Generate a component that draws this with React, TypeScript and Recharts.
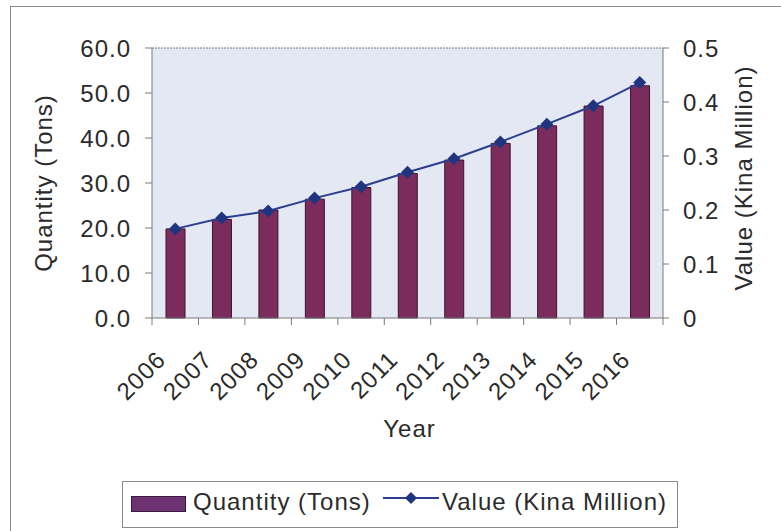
import React from "react"
import {
    ComposedChart,
    Bar,
    Line,
    XAxis,
    YAxis,
    CartesianGrid,
    ReferenceLine,
    Label,
} from "recharts"

const years = ["2006", "2007", "2008", "2009", "2010", "2011", "2012", "2013", "2014", "2015", "2016"]
const quantityTons = [19.8, 21.9, 24.0, 26.4, 29.0, 32.1, 35.1, 38.8, 42.7, 47.1, 51.6]
const valueKinaMillion = [0.165, 0.185, 0.198, 0.222, 0.243, 0.27, 0.295, 0.326, 0.359, 0.393, 0.436]
const leftTicks = [0, 10, 20, 30, 40, 50, 60]
const rightTicks = [0, 0.1, 0.2, 0.3, 0.4, 0.5]

const data = years.map((year, i) => ({
    year,
    quantity: quantityTons[i],
    value: valueKinaMillion[i],
}))

const TEXT = "#2b2b2b"
const AXIS = "#7a7a7a"
const BAR = "#7b2c5c"
const BAR_EDGE = "#3a1430"
const LINE = "#2c3f8e"
const MARKER = "#1f3580"
const FONT = 24

function Diamond({ cx, cy }: any) {
    if (cx == null || cy == null) return null
    return (
        <path
            d={`M${cx},${cy - 6.5} L${cx + 6.5},${cy} L${cx},${cy + 6.5} L${cx - 6.5},${cy} Z`}
            fill={MARKER}
        />
    )
}

function YearTick(props: any) {
    const { x, y, payload, index, width, visibleTicksCount } = props
    const step = width / (visibleTicksCount || years.length)
    const tx = x - 8
    const ty = y + 43
    return (
        <g>
            <line x1={x - step / 2} y1={y} x2={x - step / 2} y2={y + 7} stroke={AXIS} />
            {index === years.length - 1 && (
                <line x1={x + step / 2} y1={y} x2={x + step / 2} y2={y + 7} stroke={AXIS} />
            )}
            <text
                x={tx}
                y={ty}
                textAnchor="end"
                fill={TEXT}
                fontSize={FONT}
                transform={`rotate(-45, ${tx}, ${ty})`}
            >
                {payload.value}
            </text>
        </g>
    )
}

export default function App() {
    return (
        <div
            style={{
                position: "absolute",
                left: 0,
                top: 0,
                width: 781,
                height: 531,
                overflow: "hidden",
                background: "#fff",
                fontFamily: "'Liberation Sans', Arial, sans-serif",
                letterSpacing: 1,
            }}
        >
            <div
                style={{
                    position: "absolute",
                    left: 10,
                    top: 6,
                    width: 800,
                    height: 560,
                    borderLeft: "1.5px solid #8a8a8a",
                    borderTop: "1.5px solid #8a8a8a",
                }}
            />
            <div style={{ position: "absolute", left: 0, top: 0 }}>
                <ComposedChart
                    width={781}
                    height={531}
                    data={data}
                    margin={{ top: 48, right: 0, bottom: 0, left: 0 }}
                    barCategoryGap={0}
                >
                    <CartesianGrid horizontal={false} vertical={false} fill="#e4e8f3" />
                    <XAxis
                        dataKey="year"
                        height={213}
                        interval={0}
                        tickLine={false}
                        tickSize={0}
                        tickMargin={0}
                        axisLine={{ stroke: AXIS }}
                        tick={<YearTick />}
                    >
                        <Label
                            content={({ viewBox }: any) => (
                                <text
                                    x={viewBox.x + viewBox.width / 2 + 2}
                                    y={viewBox.y + 119}
                                    textAnchor="middle"
                                    fill={TEXT}
                                    fontSize={FONT}
                                >
                                    Year
                                </text>
                            )}
                        />
                    </XAxis>
                    <YAxis
                        yAxisId="left"
                        orientation="left"
                        width={152}
                        domain={[0, 60]}
                        ticks={leftTicks}
                        tickFormatter={(v: number) => v.toFixed(1)}
                        tickSize={7}
                        tickMargin={14}
                        tick={{ fill: TEXT, fontSize: FONT }}
                        axisLine={{ stroke: AXIS }}
                        tickLine={{ stroke: AXIS }}
                    >
                        <Label
                            content={({ viewBox }: any) => {
                                const lx = viewBox.x + 52
                                const ly = viewBox.y + viewBox.height / 2
                                return (
                                    <text
                                        x={lx}
                                        y={ly}
                                        textAnchor="middle"
                                        fill={TEXT}
                                        fontSize={FONT}
                                        transform={`rotate(-90, ${lx}, ${ly})`}
                                    >
                                        Quantity (Tons)
                                    </text>
                                )
                            }}
                        />
                    </YAxis>
                    <YAxis
                        yAxisId="right"
                        orientation="right"
                        width={118}
                        domain={[0, 0.5]}
                        ticks={rightTicks}
                        tickFormatter={(v: number) => (v === 0 ? "0" : v.toFixed(1))}
                        tickSize={6}
                        tickMargin={14}
                        tick={{ fill: TEXT, fontSize: FONT, textAnchor: "start" }}
                        axisLine={{ stroke: AXIS }}
                        tickLine={{ stroke: AXIS }}
                    >
                        <Label
                            content={({ viewBox }: any) => {
                                const lx = viewBox.x + 89
                                const ly = viewBox.y + viewBox.height / 2 - 5
                                return (
                                    <text
                                        x={lx}
                                        y={ly}
                                        textAnchor="middle"
                                        fill={TEXT}
                                        fontSize={FONT}
                                        transform={`rotate(-90, ${lx}, ${ly})`}
                                    >
                                        Value (Kina Million)
                                    </text>
                                )
                            }}
                        />
                    </YAxis>
                    <ReferenceLine yAxisId="left" y={60} stroke={AXIS} strokeDasharray="2 1" />
                    <Bar
                        yAxisId="left"
                        dataKey="quantity"
                        barSize={19}
                        fill={BAR}
                        stroke={BAR_EDGE}
                        strokeWidth={1}
                        isAnimationActive={false}
                    />
                    <Line
                        yAxisId="right"
                        dataKey="value"
                        stroke={LINE}
                        strokeWidth={2}
                        dot={<Diamond />}
                        activeDot={false}
                        isAnimationActive={false}
                    />
                </ComposedChart>
            </div>
            <div
                style={{
                    position: "absolute",
                    left: 122,
                    top: 481,
                    width: 554,
                    height: 45,
                    border: "1.5px solid #8a8a8a",
                    color: TEXT,
                    fontSize: FONT,
                }}
            >
                <div
                    style={{
                        position: "absolute",
                        left: 8,
                        top: 14,
                        width: 53,
                        height: 14,
                        background: "#6c3272",
                        border: "1px solid #3a1a40",
                    }}
                />
                <span style={{ position: "absolute", left: 70, top: 7, lineHeight: "26px" }}>
                    Quantity (Tons)
                </span>
                <svg style={{ position: "absolute", left: 260, top: 6 }} width={58} height={20}>
                    <line x1={0} y1={10} x2={56} y2={10} stroke={LINE} strokeWidth={2} />
                    <path d="M28,4 L34,10 L28,16 L22,10 Z" fill={MARKER} />
                </svg>
                <span style={{ position: "absolute", left: 319, top: 7, lineHeight: "26px" }}>
                    Value (Kina Million)
                </span>
            </div>
        </div>
    )
}
